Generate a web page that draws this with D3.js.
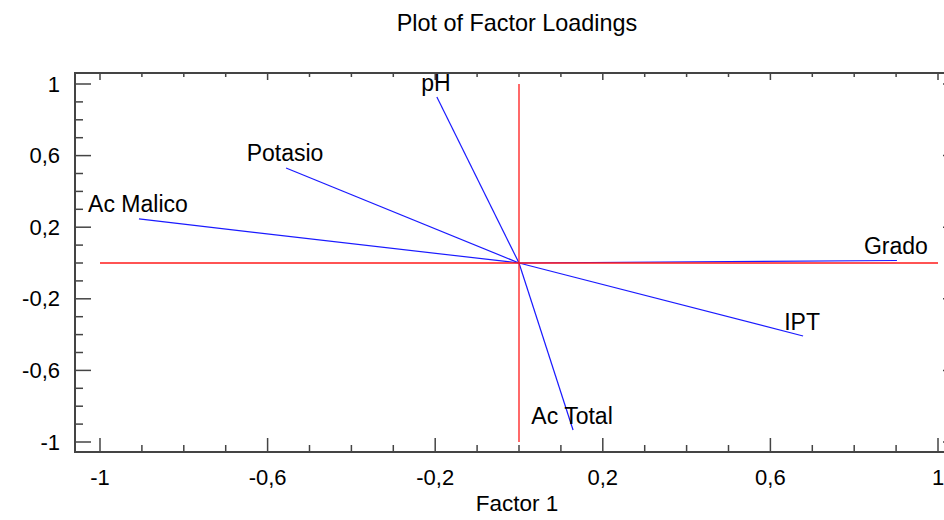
<!DOCTYPE html>
<html lang="es">
<head>
    <meta charset="utf-8" />
    <title>Plot of Factor Loadings</title>
    <script src="https://d3js.org/d3.v7.min.js"></script>
    <style>
        body { margin: 0; background: #fff; }
        svg text { font-family: "Liberation Sans", Arial, sans-serif; fill: #000; }
    </style>
</head>
<body>
    <svg id="chart" width="944" height="520"></svg>
    <script>
        // Data: factor loadings
        const variables = ["pH", "Potasio", "Ac Malico", "Grado", "IPT", "Ac Total"];
        const factor1 = [-0.196, -0.556, -0.907, 0.902, 0.678, 0.129];
        const factor2 = [0.927, 0.531, 0.246, 0.014, -0.408, -0.933];
        const majorTicks = [-1, -0.6, -0.2, 0.2, 0.6, 1];
        const tickLabels = ["-1", "-0,6", "-0,2", "0,2", "0,6", "1"];

        const svg = d3.select("#chart");

        // frame of the plot area
        const frame = { left: 75, top: 73, right: 950, bottom: 452 };

        const x = d3.scaleLinear().domain([-1, 1]).range([100, 938]);
        const y = d3.scaleLinear().domain([-1, 1]).range([442, 84]);

        const minorTicks = d3.range(-10, 11).map(d => d / 10);
        const isMajor = v => majorTicks.some(m => Math.abs(m - v) < 1e-9);

        // Title
        svg.append("text")
            .attr("x", 517)
            .attr("y", 31)
            .attr("text-anchor", "middle")
            .style("font-size", "23.4px")
            .text("Plot of Factor Loadings");

        // Ticks
        const ticks = svg.append("g").attr("stroke", "#444").attr("stroke-width", 1.5);
        minorTicks.forEach(v => {
            const big = isMajor(v);
            // bottom
            ticks.append("line")
                .attr("x1", x(v)).attr("x2", x(v))
                .attr("y1", frame.bottom).attr("y2", frame.bottom - (big ? 14 : 7));
            // top
            ticks.append("line")
                .attr("x1", x(v)).attr("x2", x(v))
                .attr("y1", frame.top).attr("y2", frame.top + (big ? 7 : 4));
            // left
            ticks.append("line")
                .attr("x1", frame.left).attr("x2", frame.left + (big ? 16 : 8))
                .attr("y1", y(v)).attr("y2", y(v));
            // right
            ticks.append("line")
                .attr("x1", frame.right).attr("x2", frame.right - (big ? 7 : 4))
                .attr("y1", y(v)).attr("y2", y(v));
        });

        // Frame
        svg.append("rect")
            .attr("x", frame.left)
            .attr("y", frame.top)
            .attr("width", frame.right - frame.left)
            .attr("height", frame.bottom - frame.top)
            .attr("fill", "none")
            .attr("stroke", "#444")
            .attr("stroke-width", 2);

        // Tick labels
        svg.append("g").selectAll("text")
            .data(majorTicks)
            .join("text")
            .attr("x", d => x(d))
            .attr("y", 485)
            .attr("text-anchor", "middle")
            .style("font-size", "22px")
            .text((d, i) => tickLabels[i]);

        svg.append("g").selectAll("text")
            .data(majorTicks)
            .join("text")
            .attr("x", 60)
            .attr("y", d => y(d) + 7.5)
            .attr("text-anchor", "end")
            .style("font-size", "22px")
            .text((d, i) => tickLabels[i]);

        // Axis title
        svg.append("text")
            .attr("x", 517)
            .attr("y", 511)
            .attr("text-anchor", "middle")
            .style("font-size", "22.5px")
            .text("Factor 1");

        // Loading vectors
        svg.append("g").selectAll("line")
            .data(variables)
            .join("line")
            .attr("x1", x(0))
            .attr("y1", y(0))
            .attr("x2", (d, i) => x(factor1[i]))
            .attr("y2", (d, i) => y(factor2[i]))
            .attr("stroke", "#1a1aff")
            .attr("stroke-width", 1.2);

        // Reference lines
        svg.append("line")
            .attr("x1", x(-1)).attr("x2", x(1))
            .attr("y1", y(0)).attr("y2", y(0))
            .attr("stroke", "#ff1a1a")
            .attr("stroke-width", 1.3);
        svg.append("line")
            .attr("x1", x(0)).attr("x2", x(0))
            .attr("y1", y(1)).attr("y2", y(-1))
            .attr("stroke", "#ff1a1a")
            .attr("stroke-width", 1.3);

        // Variable labels
        svg.append("g").selectAll("text")
            .data(variables)
            .join("text")
            .attr("x", (d, i) => x(factor1[i]) - 1)
            .attr("y", (d, i) => y(factor2[i]) - 6.5)
            .attr("text-anchor", "middle")
            .style("font-size", "23px")
            .text(d => d);
    </script>
</body>
</html>
